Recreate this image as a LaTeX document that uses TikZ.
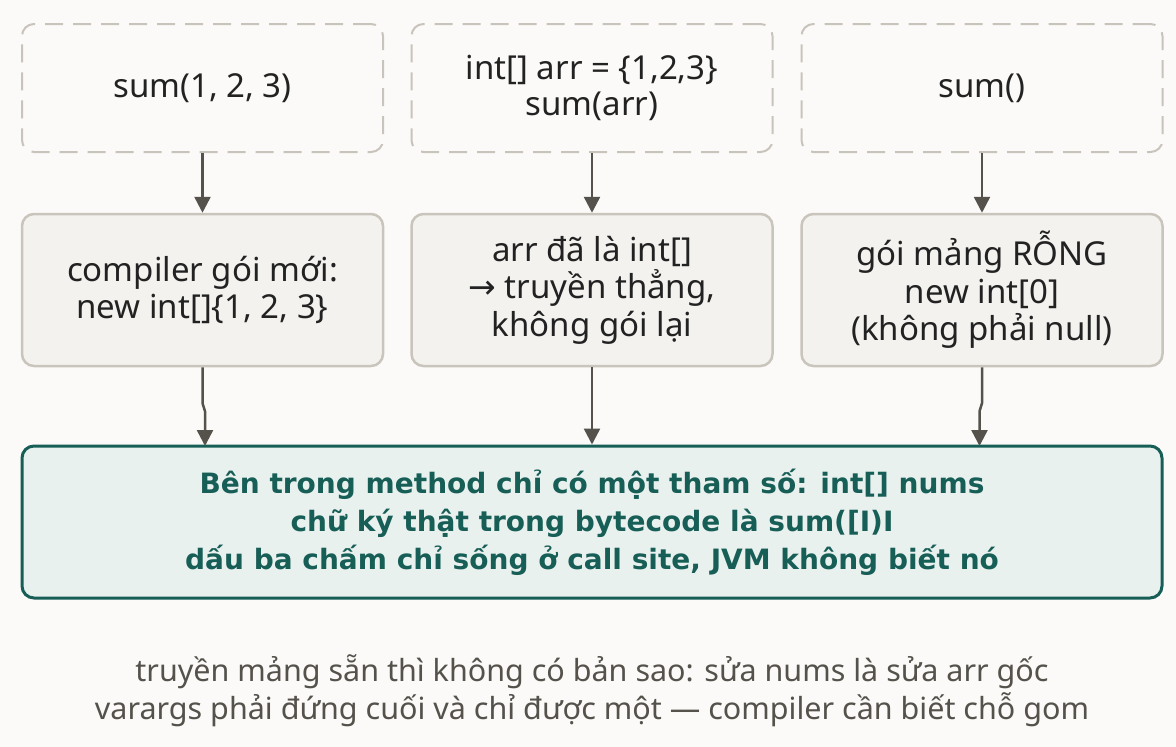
\documentclass[tikz,border=0pt]{standalone}
\usepackage{fontspec}
\setmainfont{Noto Sans}
\newfontfamily\heavyfont{DejaVu Sans}
\usetikzlibrary{arrows.meta}
\definecolor{bgc}{HTML}{FBFAF8}
\definecolor{dashc}{HTML}{C9C4BB}
\definecolor{midfill}{HTML}{F3F2EF}
\definecolor{midline}{HTML}{C9C5BC}
\definecolor{arrc}{HTML}{55524C}
\definecolor{botfill}{HTML}{E9F1EF}
\definecolor{botline}{HTML}{175E56}
\definecolor{txt}{HTML}{222222}
\definecolor{foot}{HTML}{55524C}
\tikzset{
  topbox/.style={draw=dashc, line width=2pt, dash pattern=on 18pt off 10pt, rounded corners=12pt,
    minimum width=361pt, minimum height=128pt, align=center, text=txt,
    font=\fontsize{33}{36}\selectfont},
  midbox/.style={draw=midline, fill=midfill, line width=2.5pt, rounded corners=12pt,
    minimum width=361pt, minimum height=152pt, align=center, text=txt,
    font=\fontsize{33}{37.5}\selectfont},
  botbox/.style={draw=botline, fill=botfill, line width=3pt, rounded corners=12pt,
    minimum width=1140pt, minimum height=152pt, align=center, text=botline,
    font=\fontsize{28}{38}\selectfont\heavyfont\bfseries},
  foottext/.style={align=center, text=foot, font=\fontsize{30.5}{38}\selectfont},
  arr/.style={draw=arrc, line width=2.5pt, -{Triangle[length=16pt,width=16pt]}}
}
\begin{document}
\begin{tikzpicture}[x=1pt,y=-1pt]
\useasboundingbox[fill=bgc] (0,0) rectangle (1176,747);
\node[topbox] (t1) at (202.5,88) {sum(1, 2, 3)};
\node[topbox] (t2) at (592,88) {int[] arr = \{1,2,3\}\\sum(arr)};
\node[topbox] (t3) at (982,88) {sum()};
\node[midbox] (m1) at (202.5,290) {compiler gói mới:\\new int[]\{1, 2, 3\}};
\node[midbox] (m2) at (592,290) {arr đã là int[]\\{\fontspec{DejaVu Sans}→} truyền thẳng,\\không gói lại};
\node[midbox] (m3) at (982,290) {gói mảng RỖNG\\new int[0]\\(không phải null)};
\node[botbox] (b) at (592,522) {Bên trong method chỉ có một tham số: int[] nums\\chữ ký thật trong bytecode là sum([I)I\\dấu ba chấm chỉ sống ở call site, JVM không biết nó};
\node[foottext] (f) at (592,691) {truyền mảng sẵn thì không có bản sao: sửa nums là sửa arr gốc\\varargs phải đứng cuối và chỉ được một — compiler cần biết chỗ gom};
\draw[arr] (t1.south) -- (m1.north);
\draw[arr] (t2.south) -- (m2.north);
\draw[arr] (t3.south) -- (m3.north);
\coordinate (k1) at (205,446);
\coordinate (k3) at (979.5,446);
\draw[arr] (m1.south) -- ++(0,36) -- ++(2.5,8) -- (k1);
\draw[arr] (m2.south) -- (b.north);
\draw[arr] (m3.south) -- ++(0,36) -- ++(-2.5,8) -- (k3);
\end{tikzpicture}
\end{document}
